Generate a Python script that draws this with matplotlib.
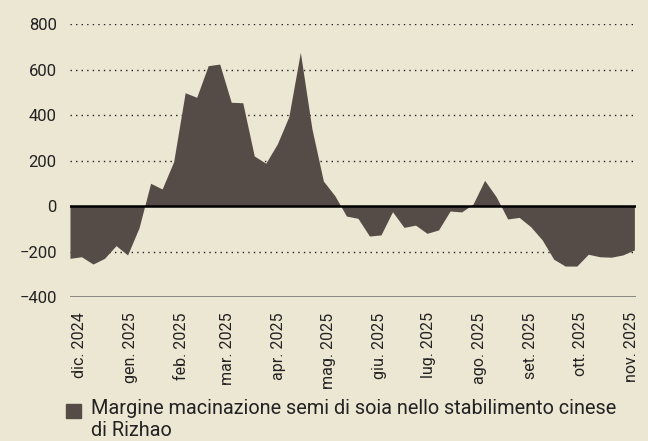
import matplotlib
matplotlib.use("Agg")
import matplotlib.pyplot as plt
import pandas as pd
from matplotlib.patches import Rectangle

plt.rcParams['font.family'] = ['Roboto', 'DejaVu Sans']

# dati settimanali
settimane = pd.date_range('2024-11-25', periods=50, freq='7D')
margine = [-230, -223, -255, -230, -174, -215, -95, 100, 75, 195,
           498, 478, 617, 624, 456, 454, 220, 188, 273, 393,
           676, 341, 110, 45, -44, -54, -132, -127, -25, -94,
           -84, -120, -105, -22, -26, 9, 113, 41, -57, -50,
           -91, -149, -234, -264, -264, -212, -223, -225, -215, -193]

mesi = pd.date_range('2024-12-01', '2025-11-01', freq='MS')
etichette_mesi = ['dic. 2024', 'gen. 2025', 'feb. 2025', 'mar. 2025', 'apr. 2025',
                  'mag. 2025', 'giu. 2025', 'lug. 2025', 'ago. 2025', 'set. 2025',
                  'ott. 2025', 'nov. 2025']
valori_y = [-400, -200, 0, 200, 400, 600, 800]
legenda = 'Margine macinazione semi di soia nello stabilimento cinese\ndi Rizhao'

sfondo = '#ECE7D3'
marrone = '#554C47'

fig = plt.figure(figsize=(6.48, 4.41), dpi=100, facecolor=sfondo)
ax = fig.add_axes([0.108, 0.3265, 0.8735, 0.619])
ax.set_facecolor(sfondo)

# griglia punteggiata
for v in valori_y:
    if v == 0 or v == -400:
        continue
    ax.axhline(v, color='#222222', lw=1.0, ls=(0, (1, 3)), zorder=1)
ax.axhline(-400, color='#6b6b6b', lw=1.8, zorder=1)

ax.fill_between(settimane, 0, margine, color=marrone, lw=0, zorder=2)
ax.axhline(0, color='black', lw=1.8, zorder=3)

ax.set_xlim(settimane[0], settimane[-1] + pd.Timedelta(days=1))
ax.set_ylim(-400, 800)
ax.set_yticks(valori_y)
ax.set_xticks(mesi)
ax.set_xticklabels(etichette_mesi, rotation=90, va='top', ha='center')
ax.tick_params(axis='both', length=0, labelsize=11.5, colors='#222222')
ax.tick_params(axis='y', pad=9.5, labelsize=12)
ax.tick_params(axis='x', pad=11)
for s in ax.spines.values():
    s.set_visible(False)

# legenda
fig.patches.append(Rectangle((66 / 648, 1 - 418 / 441), 15 / 648, 14 / 441,
                             transform=fig.transFigure, color=marrone))
fig.text(91 / 648, 1 - 399 / 441, legenda, fontsize=14.3, color='#222222',
         va='top', ha='left', linespacing=1.2)

fig.savefig('out.png', dpi=100, facecolor=sfondo)
